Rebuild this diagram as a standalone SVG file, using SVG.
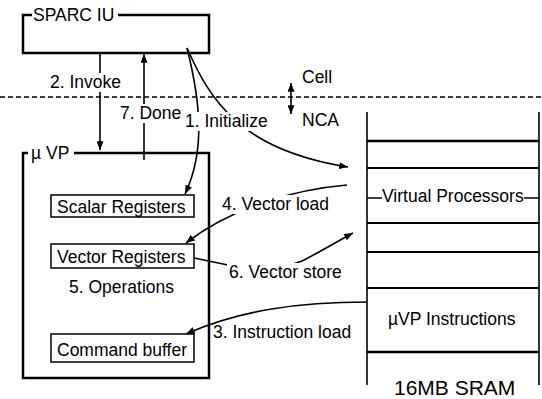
<svg xmlns="http://www.w3.org/2000/svg" width="542" height="399" viewBox="0 0 542 399">
<style>
text{font-family:"Liberation Sans",Arial,sans-serif;font-size:17.5px;fill:#000}
.big{font-size:21px}
.box{fill:none;stroke:#000;stroke-width:2.5}
.inner{fill:#fff;stroke:#000;stroke-width:1.5}
.ln{fill:none;stroke:#000;stroke-width:1.6}
.conn{fill:none;stroke:#000;stroke-width:1.6}
.bg{fill:#fff}
</style>
<defs>
<marker id="ah" viewBox="0 0 10 8" refX="10" refY="4" markerUnits="userSpaceOnUse" markerWidth="9" markerHeight="7" orient="auto-start-reverse">
<path d="M0,0 L10,4 L0,8 z" fill="#000"/>
</marker>
</defs>
<rect width="542" height="399" fill="#fff"/>

<g id="boundary">
<line x1="0" y1="97" x2="542" y2="97" stroke="#000" stroke-width="1.5" stroke-dasharray="5 3"/>
<line x1="291" y1="83" x2="291" y2="114" class="conn" marker-start="url(#ah)" marker-end="url(#ah)"/>
<text x="302" y="83">Cell</text>
<text x="302" y="126">NCA</text>
</g>

<g id="sparc">
<path class="box" d="M32,15 L23,15 L23,53 L209,53 L209,15 L118,15"/>
<text x="33" y="21">SPARC IU</text>
</g>

<g id="connectors">
<path class="conn" d="M100,53 L100,150" marker-end="url(#ah)"/>
<path class="conn" d="M144,160 L144,54" marker-end="url(#ah)"/>
<path class="conn" d="M187,48 C200,100 206,150 185,194" marker-end="url(#ah)"/>
<path class="conn" d="M187,48 C210,100 240,150 348,167" marker-end="url(#ah)"/>
<path class="conn" d="M347,185 C300,189 235,205 186,243" marker-end="url(#ah)"/>
<path class="conn" d="M194,258 L228,265 C260,271 285,268 302,261 C320,252 338,241 353,233" marker-end="url(#ah)"/>
<path class="conn" d="M367,302 C300,302 240,310 186,334" marker-end="url(#ah)"/>
<rect class="bg" x="48" y="73" width="77" height="19"/>
<text x="50" y="88">2. Invoke</text>
<rect class="bg" x="118" y="104" width="65" height="19"/>
<text x="120" y="119">7. Done</text>
<rect class="bg" x="184" y="112" width="85" height="19"/>
<text x="185" y="127">1. Initialize</text>
<rect class="bg" x="220" y="195" width="114" height="19"/>
<text x="222" y="210">4. Vector load</text>
<rect class="bg" x="227" y="263" width="121" height="19"/>
<text x="229" y="278">6. Vector store</text>
<text x="213" y="338">3. Instruction load</text>
</g>

<g id="uvp">
<path class="box" d="M28,153 L23,153 L23,378 L209,378 L209,153 L74,153"/>
<text x="31" y="159">µ<tspan x="46">VP</tspan></text>
<text x="69" y="293">5. Operations</text>
</g>

<g id="scalar">
<rect class="inner" x="51" y="195" width="143" height="22"/>
<text x="57" y="213">Scalar Registers</text>
</g>
<g id="vector">
<rect class="inner" x="51" y="244" width="143" height="24"/>
<text x="57" y="263">Vector Registers</text>
</g>
<g id="cmdbuf">
<rect class="inner" x="51" y="334" width="143" height="28"/>
<text x="57" y="356">Command buffer</text>
</g>

<g id="sram">
<path class="ln" d="M367,112 L367,385 M539,112 L539,385"/>
<line x1="367" y1="141" x2="539" y2="141" stroke="#000" stroke-width="2.5"/>
<line x1="367" y1="168" x2="539" y2="168" stroke="#000" stroke-width="2"/>
<line x1="367" y1="223" x2="539" y2="223" stroke="#000" stroke-width="2"/>
<line x1="367" y1="252" x2="539" y2="252" stroke="#000" stroke-width="2"/>
<line x1="367" y1="288" x2="539" y2="288" stroke="#000" stroke-width="2"/>
<line x1="367" y1="352" x2="539" y2="352" stroke="#000" stroke-width="2.5"/>
<path class="ln" d="M367,198 L382,198 M524,198 L539,198"/>
<text x="382" y="202">Virtual Processors</text>
<text x="388" y="325">µVP Instructions</text>
<text class="big" x="394" y="395">16MB SRAM</text>
</g>
</svg>
